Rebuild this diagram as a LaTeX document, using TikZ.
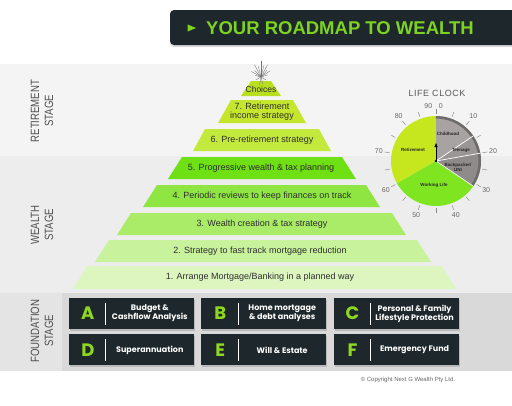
\documentclass[tikz,border=0pt]{standalone}
\usepackage{fontspec}
\setmainfont{Liberation Sans}
\newfontfamily\boxfont{Poppins}
\newfontfamily\stagefont[FakeStretch=0.8]{Liberation Sans}
\newfontfamily\clockfont[LetterSpace=6]{Liberation Sans}
\usetikzlibrary{arrows.meta, positioning, shapes.geometric, shadows}
\definecolor{barfill}{HTML}{1E272B}
\definecolor{titlegreen}{HTML}{7CD320}
\definecolor{lettergreen}{HTML}{8ED91F}
\definecolor{bgret}{HTML}{F4F4F4}
\definecolor{bgwealth}{HTML}{EDEDED}
\definecolor{bgfound}{HTML}{D9D9D9}
\definecolor{bgfoundl}{HTML}{E4E4E4}
\definecolor{laytext}{HTML}{2E2E2E}
\definecolor{stagegray}{HTML}{4F4F4F}
\definecolor{laych}{HTML}{B9E01E}
\definecolor{laysev}{HTML}{C4E62C}
\definecolor{laysix}{HTML}{C3E93C}
\definecolor{layfive}{HTML}{6EE014}
\definecolor{layfour}{HTML}{8FE642}
\definecolor{laythree}{HTML}{AAEC68}
\definecolor{laytwo}{HTML}{C8F29C}
\definecolor{layone}{HTML}{DDF6C0}
\definecolor{clkret}{HTML}{C6E61E}
\definecolor{clkwork}{HTML}{80E521}
\definecolor{clkchild}{HTML}{A7A3A3}
\definecolor{clkteen}{HTML}{9A9696}
\definecolor{clkback}{HTML}{8F8B8B}
\definecolor{clkrim}{HTML}{6E6B6B}

\begin{document}
\begin{tikzpicture}[
	x=1pt, y=-1pt,
	laytxt/.style={font=\fontsize{9}{9.5}\selectfont, text=laytext, align=center, inner sep=0pt},
	stage/.style={rotate=90, font=\stagefont\fontsize{12}{14}\selectfont, text=stagegray, align=center},
	fbox/.style={fill=barfill, minimum width=125pt, minimum height=31pt, inner sep=0pt,
		drop shadow={opacity=0.35, shadow xshift=1pt, shadow yshift=-1.5pt}},
	flet/.style={font=\boxfont\bfseries\fontsize{18}{18}\selectfont, text=lettergreen, inner sep=0pt},
	ftxt/.style={font=\boxfont\bfseries\fontsize{8}{9}\selectfont, text=white, align=center, inner sep=0pt},
	fdiv/.style={white, line width=0.8pt},
	clknum/.style={font=\fontsize{7}{7}\selectfont, text=black!60, inner sep=0pt},
	clklab/.style={font=\bfseries\fontsize{4.5}{5}\selectfont, text=black!85, align=center, inner sep=0pt},
	tick/.style={black!45, line width=0.5pt},
	ray/.style={black!55, line width=0.35pt}
	]
	
	\useasboundingbox (0,0) rectangle (512,405);
	
	\fill[bgret] (0,64) rectangle (512,156);
	\fill[bgwealth] (0,156) rectangle (512,293);
	\fill[bgfound] (0,293) rectangle (512,371);
	\fill[bgfoundl] (0,293) rectangle (62,371);
	
	\node[fill=barfill, rounded corners=4pt, minimum width=350pt, minimum height=35pt,
		drop shadow={opacity=0.3, shadow xshift=0pt, shadow yshift=-2pt}] (bar) at (345,27.5) {};
	\node[isosceles triangle, fill=titlegreen, minimum size=7pt, inner sep=0pt] (mark) at (190,28) {};
	\node[anchor=west, font=\bfseries\fontsize{18.5}{18.5}\selectfont, text=titlegreen, inner sep=0pt] (title) at (206,28) {YOUR ROADMAP TO WEALTH};
	
	\node[stage] (sret) at (42,111) {RETIREMENT\\STAGE};
	\node[stage] (swea) at (42,225) {WEALTH\\STAGE};
	\node[stage] (sfou) at (42,331) {FOUNDATION\\STAGE};
	
	\fill[layone] (73,289) -- (456,289) -- (442,266) -- (87,266) -- cycle;
	\fill[laytwo] (95,262) -- (431,262) -- (417,240) -- (109,240) -- cycle;
	\fill[laythree] (117,235) -- (406,235) -- (392,213) -- (131,213) -- cycle;
	\fill[layfour] (143,207) -- (380,207) -- (366,185) -- (157,185) -- cycle;
	\fill[layfive] (168,179) -- (356,179) -- (342,157) -- (182,157) -- cycle;
	\fill[laysix] (193,151) -- (331,151) -- (319,129) -- (205,129) -- cycle;
	\fill[laysev] (218,123) -- (306,123) -- (293,100) -- (231,100) -- cycle;
	\fill[laych] (241,96) -- (281,96) -- (271,81) -- (251,81) -- cycle;
	
	\node[laytxt] (lay1) at (260,277.5) {1. Arrange Mortgage/Banking in a planned way};
	\node[laytxt] (lay2) at (260,251) {2. Strategy to fast track mortgage reduction};
	\node[laytxt] (lay3) at (262,224) {3. Wealth creation \& tax strategy};
	\node[laytxt] (lay4) at (262,196) {4. Periodic reviews to keep finances on track};
	\node[laytxt] (lay5) at (261,168) {5. Progressive wealth \& tax planning};
	\node[laytxt] (lay6) at (262,140) {6. Pre-retirement strategy};
	\node[laytxt] (lay7) at (262,111.5) {7. Retirement\\income strategy};
	\node[laytxt, font=\fontsize{8.5}{9}\selectfont] (lay8) at (261,89) {Choices};
	
	\coordinate (burst) at (261,77);
	\foreach \a/\l in {-90/16, -76/12, -62/14, -48/9, -34/11, -18/7, -104/11, -118/14, -134/9, -150/11, -165/6, 30/6, 150/6, 100/8, 75/7}
		\draw[ray] (burst) -- ++(\a:\l);
	
	\node[font=\clockfont\fontsize{9}{9}\selectfont, text=black!65] (clk) at (437,93) {LIFE CLOCK};
	
	\begin{scope}[shift={(436,161)}]
		\fill[clkret] (0,0) -- (150:45) arc[start angle=150, end angle=270, radius=45] -- cycle;
		\fill[clkwork] (0,0) -- (34:45) arc[start angle=34, end angle=150, radius=45] -- cycle;
		\fill[clkback] (0,0) -- (-10:45) arc[start angle=-10, end angle=34, radius=45] -- cycle;
		\fill[clkteen] (0,0) -- (-34:45) arc[start angle=-34, end angle=-10, radius=45] -- cycle;
		\fill[clkchild] (0,0) -- (-90:45) arc[start angle=-90, end angle=-34, radius=45] -- cycle;
		\draw[clkrim, line width=2.5pt] (-90:43.7) arc[start angle=-90, end angle=34, radius=43.7];
		\draw[white, line width=0.7pt] (0,0) -- (-34:45) (0,0) -- (-10:45) (0,0) -- (34:45);
		\foreach \yr in {0,5,...,85}
			\draw[tick] ({4*\yr-90}:47) -- ({4*\yr-90}:52);
		\foreach \yr in {10,20,...,80}
			\node[clknum] (n\yr) at ({4*\yr-90}:58) {\yr};
		\node[clknum] (n0) at (-85:55) {0};
		\node[clknum] (n90) at (-98:55) {90};
		\node[clklab] (child) at (12,-27) {Childhood};
		\node[clklab] (teen) at (25,-11) {Teenage};
		\node[clklab] (back) at (22,6) {Backpacker/\\UNI};
		\node[clklab] (work) at (-2,24) {Working Life};
		\node[clklab] (reti) at (-23,-11) {Retirement};
		\coordinate (hub) at (0,0);
		\coordinate (hand) at (0,-18);
		\draw[-{Triangle[length=4pt, width=3pt]}, line width=0.9pt] (hub) -- (hand);
		\fill (hub) circle (1.3);
	\end{scope}
	
	\node[fbox] (boxa) at (131.5,313.5) {};
	\node[fbox, right=7pt of boxa] (boxb) {};
	\node[fbox, right=7pt of boxb] (boxc) {};
	\node[fbox, below=5pt of boxa] (boxd) {};
	\node[fbox, right=7pt of boxd] (boxe) {};
	\node[fbox, right=7pt of boxe] (boxf) {};
	
	\node[flet] (leta) at ([xshift=19pt]boxa.west) {A};
	\draw[fdiv] ([xshift=37pt, yshift=11pt]boxa.west) -- ([xshift=37pt, yshift=-11pt]boxa.west);
	\node[ftxt] (txta) at ([xshift=81pt]boxa.west) {Budget \&\\Cashflow Analysis};
	
	\node[flet] (letb) at ([xshift=19pt]boxb.west) {B};
	\draw[fdiv] ([xshift=37pt, yshift=11pt]boxb.west) -- ([xshift=37pt, yshift=-11pt]boxb.west);
	\node[ftxt] (txtb) at ([xshift=81pt]boxb.west) {Home mortgage\\\& debt analyses};
	
	\node[flet] (letc) at ([xshift=19pt]boxc.west) {C};
	\draw[fdiv] ([xshift=37pt, yshift=11pt]boxc.west) -- ([xshift=37pt, yshift=-11pt]boxc.west);
	\node[ftxt] (txtc) at ([xshift=81pt]boxc.west) {Personal \& Family\\Lifestyle Protection};
	
	\node[flet] (letd) at ([xshift=19pt]boxd.west) {D};
	\draw[fdiv] ([xshift=37pt, yshift=11pt]boxd.west) -- ([xshift=37pt, yshift=-11pt]boxd.west);
	\node[ftxt] (txtd) at ([xshift=81pt]boxd.west) {Superannuation};
	
	\node[flet] (lete) at ([xshift=19pt]boxe.west) {E};
	\draw[fdiv] ([xshift=37pt, yshift=11pt]boxe.west) -- ([xshift=37pt, yshift=-11pt]boxe.west);
	\node[ftxt] (txte) at ([xshift=81pt]boxe.west) {Will \& Estate};
	
	\node[flet] (letf) at ([xshift=19pt]boxf.west) {F};
	\draw[fdiv] ([xshift=37pt, yshift=11pt]boxf.west) -- ([xshift=37pt, yshift=-11pt]boxf.west);
	\node[ftxt] (txtf) at ([xshift=81pt]boxf.west) {Emergency Fund};
	
	\node[font=\fontsize{6}{6}\selectfont, text=black!60] (copyr) at (408,380) {© Copyright Next G Wealth Pty Ltd.};
	
\end{tikzpicture}
\end{document}
